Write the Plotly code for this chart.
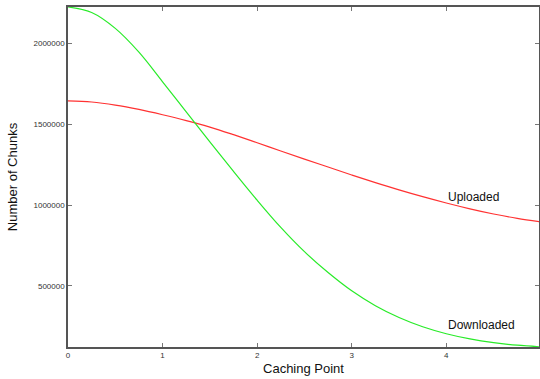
import plotly.graph_objects as go

caching_point = [0, 0.25, 0.5, 0.75, 1.0, 1.25, 1.5, 1.75, 2.0, 2.25, 2.5, 2.75,
                 3.0, 3.25, 3.5, 3.75, 4.0, 4.25, 4.5, 4.75, 5.0]
downloaded = [2224000, 2190000, 2092000, 1945000, 1762000, 1576000, 1391000, 1208000,
              1030000, 862000, 712000, 583000, 470000, 378000, 305000, 248000,
              205000, 173000, 150000, 134000, 124000]
uploaded = [1644000, 1637000, 1618000, 1591000, 1558000, 1522000, 1482000, 1435000,
            1385000, 1334000, 1284000, 1235000, 1186000, 1139000, 1094000, 1052000,
            1013000, 977000, 945000, 918000, 896000]
x_ticks = [0, 1, 2, 3, 4]
y_ticks = [500000, 1000000, 1500000, 2000000]
y_tick_text = ["500000", "1000000", "1500000", "2000000"]

font_fam = "Liberation Sans, Arial"

fig = go.Figure()
fig.add_trace(go.Scatter(x=caching_point, y=uploaded, mode="lines",
                         line=dict(color="rgb(255,50,50)", width=1.2, shape="spline"),
                         name="Uploaded"))
fig.add_trace(go.Scatter(x=caching_point, y=downloaded, mode="lines",
                         line=dict(color="rgb(40,235,40)", width=1.2, shape="spline"),
                         name="Downloaded"))

fig.add_annotation(x=4.0, y=1051000, text="Uploaded", showarrow=False,
                   xanchor="left", yanchor="middle",
                   font=dict(family=font_fam, size=12, color="#111"))
fig.add_annotation(x=4.0, y=261000, text="Downloaded", showarrow=False,
                   xanchor="left", yanchor="middle",
                   font=dict(family=font_fam, size=12, color="#111"))

axis_common = dict(showline=True, linecolor="#555", linewidth=1.5, mirror="ticks",
                   ticks="inside", ticklen=4, tickcolor="#777", showgrid=False,
                   zeroline=False, automargin=False,
                   tickfont=dict(family=font_fam, size=8, color="#333"))

fig.update_layout(
    width=540, height=379,
    margin=dict(l=68, r=1, t=7, b=32),
    paper_bgcolor="white", plot_bgcolor="white",
    showlegend=False,
    xaxis=dict(range=[0, 4.98], tickvals=x_ticks, ticktext=[str(v) for v in x_ticks],
               title=dict(text="Caching Point", standoff=5,
                          font=dict(family=font_fam, size=13, color="#111")),
               **axis_common),
    yaxis=dict(range=[123000, 2224000], tickvals=y_ticks, ticktext=y_tick_text,
               title=dict(text="Number of Chunks", standoff=13,
                          font=dict(family=font_fam, size=13, color="#111")),
               **axis_common),
)

fig.write_html("out.html", config={"displayModeBar": False},
               post_script="document.body.style.margin='0';document.body.style.padding='0';")
